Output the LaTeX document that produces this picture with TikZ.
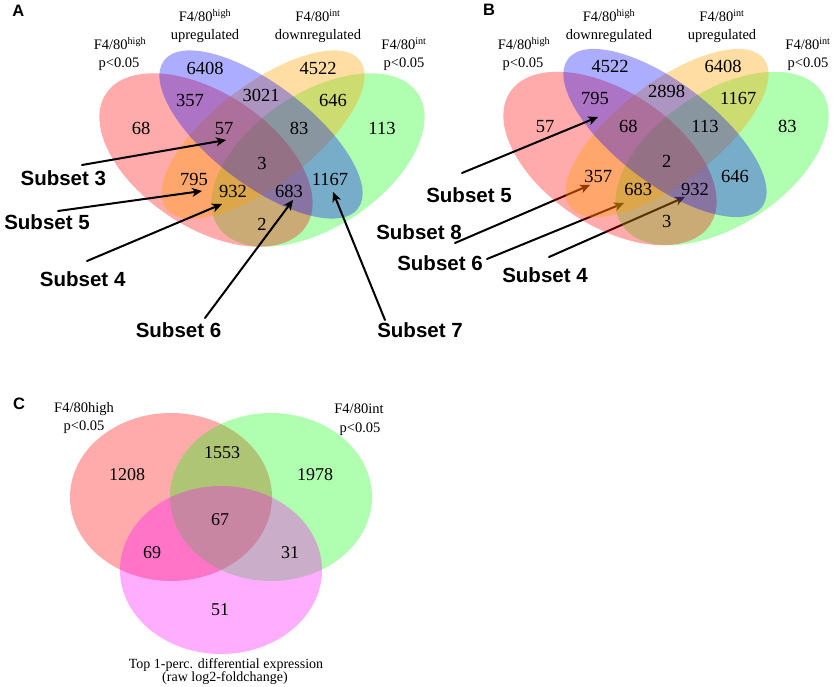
\documentclass[tikz,border=0pt]{standalone}
\usepackage{fontspec}
\setmainfont{Liberation Serif}
\setsansfont{Liberation Sans}
\usetikzlibrary{arrows.meta}
\begin{document}
\begin{tikzpicture}[x=1pt,y=-1pt,
  num/.style={inner sep=0pt, font=\fontsize{18.5}{20}\selectfont},
  numc/.style={inner sep=0pt, font=\fontsize{18}{20}\selectfont},
  ttl/.style={inner sep=0pt, anchor=base, font=\fontsize{14.5}{18}\selectfont},
  subl/.style={inner sep=0pt, font=\sffamily\bfseries\fontsize{20.5}{22}\selectfont},
  pletter/.style={inner sep=0pt, font=\sffamily\bfseries\fontsize{16.5}{18}\selectfont},
  arr/.style={line width=2pt, line cap=round, -{Stealth[length=10pt,width=9pt,inset=3pt]}},
  setR/.style={fill={rgb,255:red,255;green,0;blue,0}, fill opacity=0.33},
  setG/.style={fill={rgb,255:red,0;green,255;blue,0}, fill opacity=0.31},
  setO/.style={fill={rgb,255:red,255;green,160;blue,0}, fill opacity=0.36},
  setB/.style={fill={rgb,255:red,0;green,0;blue,255}, fill opacity=0.32},
  setM/.style={fill={rgb,255:red,255;green,0;blue,255}, fill opacity=0.32},
]
\useasboundingbox (0,0) rectangle (835,687);

% ---------------- Panel A ----------------
\node[pletter] (pA) at (18.3,10.8) {A};
\fill[setG, rotate around={33.6:(318,160)}] (318,160) ellipse [x radius=120pt, y radius=67pt];
\fill[setR, rotate around={-33.6:(206,160)}] (206,160) ellipse [x radius=120pt, y radius=67pt];
\fill[setO, rotate around={37.4:(263,134.5)}] (263,134.5) ellipse [x radius=122pt, y radius=50pt];
\fill[setB, rotate around={-37.4:(261,134.5)}] (261,134.5) ellipse [x radius=122pt, y radius=50pt];

\node[ttl] (tA1a) at (120,50) {F4/80\textsuperscript{high}};
\node[ttl] (tA1b) at (119,68) {p<0.05};
\node[ttl] (tA2a) at (205,21.7) {F4/80\textsuperscript{high}};
\node[ttl] (tA2b) at (205,40) {upregulated};
\node[ttl] (tA3a) at (318,21.7) {F4/80\textsuperscript{int}};
\node[ttl] (tA3b) at (318,40) {downregulated};
\node[ttl] (tA4a) at (404,50) {F4/80\textsuperscript{int}};
\node[ttl] (tA4b) at (404,68) {p<0.05};

\node[num] (nA6408) at (205,68.3) {6408};
\node[num] (nA4522) at (318,68.3) {4522};
\node[num] (nA357) at (190,100) {357};
\node[num] (nA3021) at (261,95) {3021};
\node[num] (nA646) at (333,100) {646};
\node[num] (nA68) at (141,128.3) {68};
\node[num] (nA57) at (224,128.3) {57};
\node[num] (nA83) at (299,128.3) {83};
\node[num] (nA113) at (382,128.3) {113};
\node[num] (nA3) at (262,163.3) {3};
\node[num] (nA795) at (194,179.3) {795};
\node[num] (nA1167) at (330,179.3) {1167};
\node[num] (nA932) at (233,191.7) {932};
\node[num] (nA683) at (289,191.7) {683};
\node[num] (nA2) at (262,224) {2};

\node[subl] (sA3) at (63.3,178.5) {Subset 3};
\node[subl] (sA5) at (47,222.5) {Subset 5};
\node[subl] (sA4) at (82.7,279.5) {Subset 4};
\node[subl] (sA6) at (178.5,330) {Subset 6};
\node[subl] (sA7) at (420,330) {Subset 7};

\coordinate (aA3s) at (82,165);  \coordinate (aA3t) at (226,140);
\coordinate (aA5s) at (58,211);  \coordinate (aA5t) at (202,191);
\coordinate (aA4s) at (87,261);  \coordinate (aA4t) at (222,204);
\coordinate (aA6s) at (205,318); \coordinate (aA6t) at (293,200);
\coordinate (aA7s) at (385,320); \coordinate (aA7t) at (333,192);
\draw[arr] (aA3s) -- (aA3t);
\draw[arr] (aA5s) -- (aA5t);
\draw[arr] (aA4s) -- (aA4t);
\draw[arr] (aA6s) -- (aA6t);
\draw[arr] (aA7s) -- (aA7t);

% ---------------- Panel B ----------------
\node[pletter] (pB) at (489,10) {B};
\coordinate (aB8s) at (455,243); \coordinate (aB8t) at (590,185);
\coordinate (aB6s) at (487,259); \coordinate (aB6t) at (624,203);
\coordinate (aB4s) at (549,257); \coordinate (aB4t) at (685,197);
\coordinate (aB5s) at (462,173); \coordinate (aB5t) at (598,117);
\draw[arr] (aB8s) -- (aB8t);
\draw[arr] (aB6s) -- (aB6t);
\draw[arr] (aB4s) -- (aB4t);
\begin{scope}[shift={(404,-1.5)}]
\fill[setG, rotate around={33.6:(318,160)}] (318,160) ellipse [x radius=120pt, y radius=67pt];
\fill[setR, rotate around={-33.6:(206,160)}] (206,160) ellipse [x radius=120pt, y radius=67pt];
\fill[setO, rotate around={37.4:(263,134.5)}] (263,134.5) ellipse [x radius=122pt, y radius=50pt];
\fill[setB, rotate around={-37.4:(261,134.5)}] (261,134.5) ellipse [x radius=122pt, y radius=50pt];
\end{scope}
\draw[arr] (aB5s) -- (aB5t);

\node[ttl] (tB1a) at (524,50) {F4/80\textsuperscript{high}};
\node[ttl] (tB1b) at (523,68) {p<0.05};
\node[ttl] (tB2a) at (609,21.7) {F4/80\textsuperscript{high}};
\node[ttl] (tB2b) at (609,40) {downregulated};
\node[ttl] (tB3a) at (722,21.7) {F4/80\textsuperscript{int}};
\node[ttl] (tB3b) at (722,40) {upregulated};
\node[ttl] (tB4a) at (808,50) {F4/80\textsuperscript{int}};
\node[ttl] (tB4b) at (808,68) {p<0.05};

\node[num] (nB4522) at (610,66.7) {4522};
\node[num] (nB6408) at (723,66.7) {6408};
\node[num] (nB795) at (595,98.3) {795};
\node[num] (nB2898) at (666.7,91.7) {2898};
\node[num] (nB1167) at (738.3,98.3) {1167};
\node[num] (nB57) at (545,126.7) {57};
\node[num] (nB68) at (628.3,126.7) {68};
\node[num] (nB113) at (705,126.7) {113};
\node[num] (nB83) at (787.3,126.7) {83};
\node[num] (nB2) at (666.7,161.7) {2};
\node[num] (nB357) at (598.3,176.7) {357};
\node[num] (nB646) at (735,176.7) {646};
\node[num] (nB683) at (638.3,189.3) {683};
\node[num] (nB932) at (695,189.3) {932};
\node[num] (nB3) at (666.7,221.7) {3};

\node[subl] (sB5) at (469,195) {Subset 5};
\node[subl] (sB8) at (419,232.5) {Subset 8};
\node[subl] (sB6) at (440,263) {Subset 6};
\node[subl] (sB4) at (545,275) {Subset 4};

% ---------------- Panel C ----------------
\node[pletter] (pC) at (19,404) {C};
\fill[setR] (171,497) ellipse [x radius=101pt, y radius=84pt];
\fill[setG] (271,497) ellipse [x radius=101pt, y radius=84pt];
\fill[setM] (221,570) ellipse [x radius=101pt, y radius=84pt];

\node[ttl] (tC1a) at (84,412) {F4/80high};
\node[ttl] (tC1b) at (84,430) {p<0.05};
\node[ttl] (tC2a) at (359,413.5) {F4/80int};
\node[ttl] (tC2b) at (360,432) {p<0.05};
\node[ttl, font=\fontsize{14}{14}\selectfont] (tC3a) at (226,668) {Top 1-perc. differential expression};
\node[ttl, font=\fontsize{14}{14}\selectfont] (tC3b) at (225,681) {(raw log2-foldchange)};

\node[numc] (nC1208) at (127,475) {1208};
\node[numc] (nC1553) at (222,453) {1553};
\node[numc] (nC1978) at (315,475) {1978};
\node[numc] (nC67) at (220,520) {67};
\node[numc] (nC69) at (152,553) {69};
\node[numc] (nC31) at (290,553) {31};
\node[numc] (nC51) at (220,610) {51};
\end{tikzpicture}
\end{document}
